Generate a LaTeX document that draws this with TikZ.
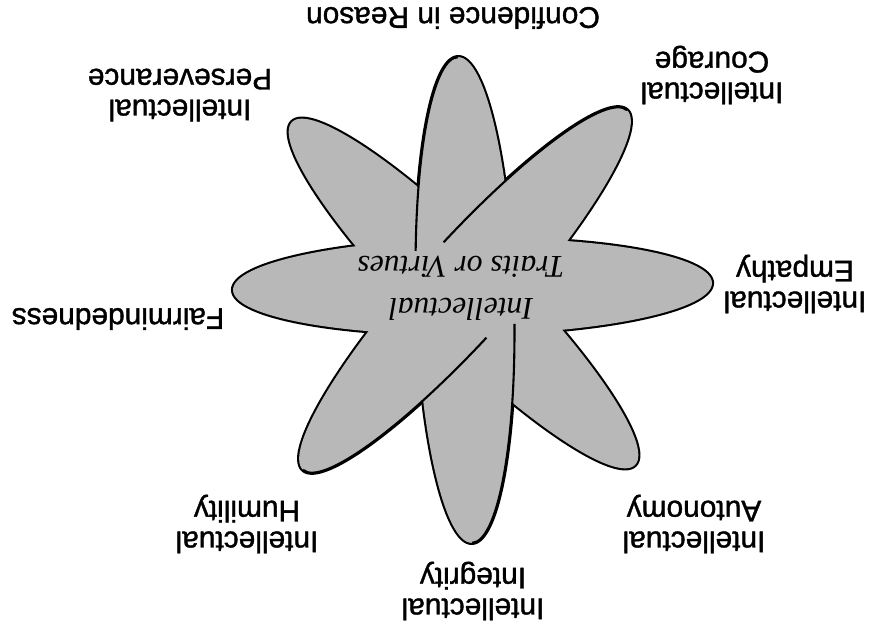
\documentclass[tikz,border=0pt]{standalone}
\usepackage{fontspec}
\setmainfont{Liberation Sans}
\newfontfamily\traitfont{Liberation Sans}[FakeBold=1.2, BoldFont={Liberation Sans}]
\newfontfamily\virtuefont{Liberation Serif}
\usepackage{tikz}
\usetikzlibrary{calc}

\definecolor{petalgray}{gray}{0.72}
\tikzset{
  trait/.style={rotate=180, align=center, font=\traitfont\bfseries\fontsize{17}{17.5}\selectfont},
  petalrim/.style={line width=2.4pt},
  petaledge/.style={line width=1.2pt},
}

\begin{document}
\begin{tikzpicture}[line join=round]
  \fill[white] (0,0) rectangle (17.44,-12.68);
  \useasboundingbox (0,0) rectangle (17.44,-12.68);

  % 1. Cánh hoa (tâm x / tâm y / góc / bán trục lớn / bán trục nhỏ)
  \foreach \cx/\cy/\ang/\ra/\rb in {9.45/-5.73/0.84/4.79/0.96, 9.27/-5.87/-45/4.85/0.96,
                                    9.30/-6.00/91.65/4.86/0.98, 9.30/-5.80/48/4.84/0.96} {
    \draw[petalrim, rotate around={\ang:(\cx,\cy)}] (\cx,\cy) ellipse [x radius=\ra, y radius=\rb];
  }
  \foreach \cx/\cy/\ang/\ra/\rb in {9.45/-5.73/0.84/4.79/0.96, 9.27/-5.87/-45/4.85/0.96,
                                    9.30/-6.00/91.65/4.86/0.98, 9.30/-5.80/48/4.84/0.96} {
    \fill[petalgray, rotate around={\ang:(\cx,\cy)}] (\cx,\cy) ellipse [x radius=\ra, y radius=\rb];
  }

  % 2. Các nét bên trong
  \begin{scope}[shift={(9.30,-6.00)}, rotate=91.65]
    \draw[petaledge] (0:4.86 and 0.98) arc[start angle=0, end angle=78, x radius=4.86, y radius=0.98];
    \draw[petaledge] (180:4.86 and 0.98) arc[start angle=180, end angle=264, x radius=4.86, y radius=0.98];
  \end{scope}
  \begin{scope}[shift={(9.30,-5.80)}, rotate=48]
    \draw[petaledge] (0:4.84 and 0.96) arc[start angle=0, end angle=85, x radius=4.84, y radius=0.96];
    \draw[petaledge] (180:4.84 and 0.96) arc[start angle=180, end angle=265, x radius=4.84, y radius=0.96];
  \end{scope}

  % 3. Chữ ở giữa
  \node[rotate=180, align=center, font=\virtuefont\itshape\fontsize{18}{24}\selectfont]
    (hub) at (9.22,-5.76) {Intellectual\\Traits or Virtues};

  % 4. Các nhãn
  \node[trait] (reason) at (9.06,-0.36) {Confidence in Reason};
  \node[trait] (courage) at (14.24,-1.50) {Intellectual\\Courage};
  \node[trait] (persev) at (3.60,-1.90) {Intellectual\\Perseverance};
  \node[trait] (empathy) at (15.90,-5.68) {Intellectual\\Empathy};
  \node[trait] (fair) at (2.36,-6.38) {Fairmindedness};
  \node[trait] (humility) at (4.94,-10.48) {Intellectual\\Humility};
  \node[trait] (integrity) at (9.46,-11.82) {Intellectual\\Integrity};
  \node[trait] (autonomy) at (13.88,-10.48) {Intellectual\\Autonomy};
\end{tikzpicture}
\end{document}
